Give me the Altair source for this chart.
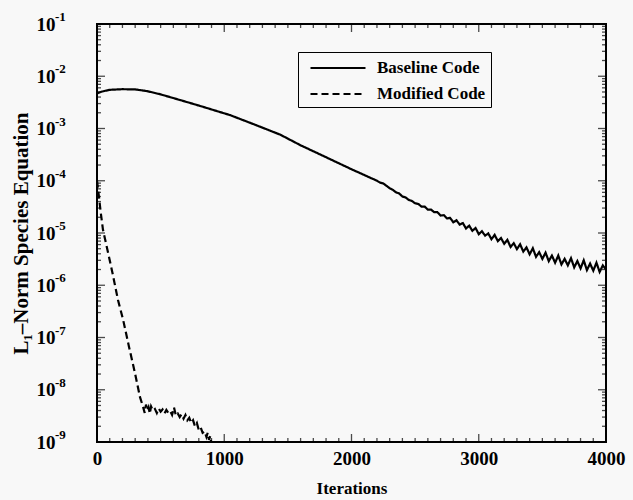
import altair as alt
import pandas as pd

FONT = "Liberation Serif"
BG = "#f8f8f8"

# Baseline code residual history
base_iter = [0, 10, 40, 100, 200, 300, 393, 500, 654, 800, 1047, 1250, 1441, 1598, 1752, 2000,
             2200, 2225, 2250, 2275, 2300, 2325, 2350, 2375, 2400, 2425, 2450, 2475,
             2500, 2525, 2550, 2575, 2600, 2625, 2650, 2675, 2700, 2725, 2750, 2775,
             2800, 2825, 2850, 2875, 2900, 2925, 2950, 2975, 3000, 3025, 3050, 3075,
             3100, 3125, 3150, 3175, 3200, 3225, 3250, 3275, 3300, 3325, 3350, 3375,
             3400, 3425, 3450, 3475, 3500, 3525, 3550, 3575, 3600, 3625, 3650, 3675,
             3700, 3725, 3750, 3775, 3800, 3825, 3850, 3875, 3900, 3925, 3950, 3975, 4000]
base_val = [5.0e-3, 4.8e-3, 5.1e-3, 5.5e-3, 5.65e-3, 5.6e-3, 5.2e-3, 4.5e-3, 3.5e-3, 2.75e-3,
            1.8e-3, 1.16e-3, 7.6e-4, 4.8e-4, 3.2e-4, 1.66e-4,
            1.0e-4, 9.2e-5, 8.9e-5, 8.0e-5, 7.2e-5, 6.7e-5, 6.0e-5, 5.7e-5, 5.0e-5, 4.8e-5, 4.3e-5, 4.1e-5,
            3.7e-5, 3.6e-5, 3.2e-5, 3.2e-5, 2.8e-5, 2.8e-5, 2.5e-5, 2.5e-5, 2.15e-5, 2.2e-5, 1.9e-5, 1.95e-5,
            1.6e-5, 1.75e-5, 1.45e-5, 1.55e-5, 1.22e-5, 1.38e-5, 1.1e-5, 1.25e-5, 9.5e-6, 1.08e-5, 8.9e-6, 9.8e-6,
            7.6e-6, 9.2e-6, 7.0e-6, 8.0e-6, 6.2e-6, 7.4e-6, 5.4e-6, 6.4e-6, 4.9e-6, 6.1e-6, 4.4e-6, 5.3e-6,
            3.9e-6, 5.1e-6, 3.5e-6, 4.3e-6, 3.2e-6, 4.2e-6, 2.9e-6, 3.7e-6, 2.7e-6, 3.7e-6, 2.5e-6, 3.2e-6,
            2.4e-6, 3.3e-6, 2.2e-6, 2.9e-6, 2.1e-6, 3.0e-6, 1.95e-6, 2.6e-6, 1.9e-6, 2.7e-6, 1.8e-6, 2.4e-6, 2.0e-6]

# Modified code residual history
mod_iter = [0, 15, 30, 47, 80, 120, 165, 205, 250, 300, 338, 362,
            375, 385, 395, 405, 415, 425, 440, 455, 470, 485, 500, 515, 530, 545, 560, 575,
            590, 605, 620, 635, 650, 665, 680, 695, 710, 725, 740, 755, 770, 785, 800, 815,
            830, 845, 860, 870, 880, 890, 900, 910, 920]
mod_val = [1.0e-4, 5.0e-5, 2.4e-5, 1.15e-5, 5.0e-6, 1.8e-6, 5.2e-7, 2.2e-7, 6.9e-8, 2.0e-8, 7.2e-9, 4.7e-9,
           3.6e-9, 5.2e-9, 4.0e-9, 4.6e-9, 3.5e-9, 4.8e-9, 4.0e-9, 4.3e-9, 3.6e-9, 4.4e-9, 3.8e-9, 4.2e-9,
           3.5e-9, 4.1e-9, 3.6e-9, 3.9e-9, 3.3e-9, 4.6e-9, 3.2e-9, 3.5e-9, 3.0e-9, 3.4e-9, 2.8e-9, 3.3e-9,
           2.6e-9, 2.9e-9, 2.3e-9, 2.6e-9, 2.0e-9, 2.3e-9, 1.7e-9, 1.9e-9, 1.5e-9, 1.6e-9, 1.25e-9, 1.5e-9,
           1.1e-9, 1.3e-9, 9.0e-10, 1.05e-9, 8.0e-10]

series_names = ["Baseline Code", "Modified Code"]
x_labels = [0, 1000, 2000, 3000, 4000]
x_minor = [v for v in range(0, 4001, 100) if v % 1000 != 0]
decades = [1e-9, 1e-8, 1e-7, 1e-6, 1e-5, 1e-4, 1e-3, 1e-2, 1e-1]
exponents = ["-9", "-8", "-7", "-6", "-5", "-4", "-3", "-2", "-1"]
y_minor = [m * d for d in decades[:-1] for m in range(2, 10)]

df = pd.concat([
    pd.DataFrame({"iter": base_iter, "val": base_val, "series": series_names[0]}),
    pd.DataFrame({"iter": mod_iter, "val": mod_val, "series": series_names[1]}),
])
exp_df = pd.DataFrame({"val": decades, "t": exponents})

W, H = 509, 418
x_scale = alt.Scale(domain=[0, 4000], nice=False, zero=False)
y_scale = alt.Scale(type="log", domain=[1e-9, 1e-1], nice=False)

x_axis = alt.Axis(
    title="Iterations", values=x_labels, format="d", ticks=False, domain=False, grid=False,
    labelFont=FONT, labelFontSize=19, labelFontWeight="bold", labelColor="black",
    labelPadding=7, labelFlush=False, labelOverlap=False,
    titleFont=FONT, titleFontSize=17, titleFontWeight="bold", titleColor="black", titlePadding=12)
y_axis = alt.Axis(
    title="L₁–Norm Species Equation", values=decades, labelExpr="'10'", ticks=False,
    domain=False, grid=False, labelFont=FONT, labelFontSize=19, labelFontWeight="bold",
    labelColor="black", labelPadding=42, labelOverlap=False, labelFlush=False,
    titleFont=FONT, titleFontSize=21, titleFontWeight="bold", titleColor="black", titlePadding=5)


def X(field):
    return alt.X(field, type="quantitative", scale=x_scale, axis=x_axis)


def Y(field):
    return alt.Y(field, type="quantitative", scale=y_scale, axis=y_axis)


lines = alt.Chart(df).mark_line(strokeWidth=2.2, clip=True, color="black").encode(
    x=X("iter"),
    y=Y("val"),
    strokeDash=alt.StrokeDash("series:N", scale=alt.Scale(domain=series_names, range=[[1, 0], [7, 4]]),
        legend=alt.Legend(title=None, orient="none", legendX=201, legendY=28, strokeColor="black",
                          fillColor=BG, padding=5, labelFont=FONT, labelFontSize=17,
                          labelFontWeight="bold", labelColor="black",
                          symbolType="M-2.75,0H2.75", symbolSize=400, symbolOffset=24,
                          symbolStrokeWidth=2, symbolStrokeColor="black",
                          rowPadding=7, labelOffset=28)),
    detail="series:N",
)

SIZE = alt.Size("len:Q", scale=None, legend=None)


def x_ticks(values, size):
    d = pd.DataFrame({"iter": values, "len": [size] * len(values)})
    half = size // 2
    mk = dict(orient="vertical", color="black", thickness=1.3)
    bottom = alt.Chart(d).mark_tick(**mk).encode(x=X("iter"), y=alt.value(H - half), size=SIZE)
    top = alt.Chart(d).mark_tick(**mk).encode(x=X("iter"), y=alt.value(half), size=SIZE)
    return [bottom, top]


def y_ticks(values, size):
    d = pd.DataFrame({"val": values, "len": [size] * len(values)})
    half = size // 2
    mk = dict(orient="horizontal", color="black", thickness=1.3)
    left = alt.Chart(d).mark_tick(**mk).encode(y=Y("val"), x=alt.value(half), size=SIZE)
    right = alt.Chart(d).mark_tick(**mk).encode(y=Y("val"), x=alt.value(W - half), size=SIZE)
    return [left, right]


ticks = x_ticks(x_minor, 4) + x_ticks(x_labels, 8) + y_ticks(y_minor, 4) + y_ticks(decades, 8)

exps = alt.Chart(exp_df).mark_text(align="left", baseline="middle", dy=-7, font=FONT,
                                   fontSize=13, fontWeight="bold", color="black").encode(
    y=Y("val"),
    x=alt.value(-42),
    text="t:N",
)

chart = alt.layer(*ticks, lines, exps).properties(
    width=W, height=H,
    autosize=alt.AutoSizeParams(type="none"),
    padding={"left": 97, "top": 24, "right": 27, "bottom": 58},
    background=BG,
).configure_view(stroke="black", strokeWidth=2)

chart.save("out.html", embed_options={"renderer": "svg", "actions": False})
